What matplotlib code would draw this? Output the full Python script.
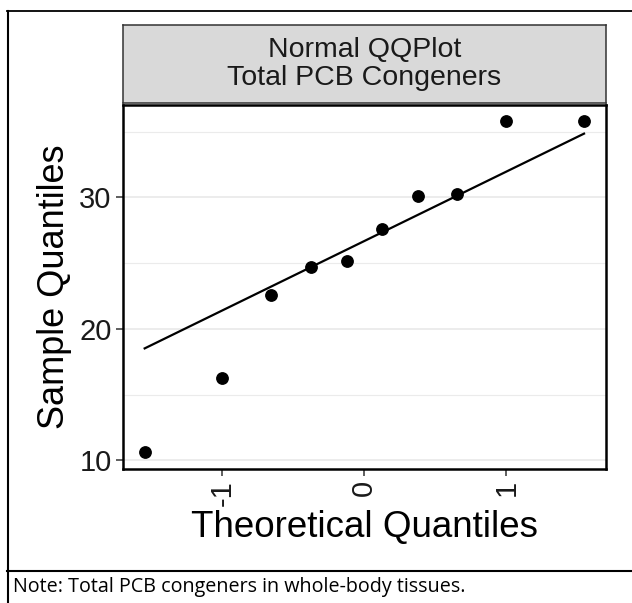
import numpy as np
import matplotlib
matplotlib.use("Agg")
import matplotlib.pyplot as plt
from matplotlib.lines import Line2D

# data
theoretical = [-1.547, -1.0, -0.655, -0.375, -0.123, 0.123, 0.375, 0.655, 1.0, 1.547]
sample = [10.6, 16.3, 22.6, 24.7, 25.2, 27.6, 30.1, 30.3, 35.8, 35.8]
x_ticks = [-1, 0, 1]
y_ticks = [10, 20, 30]
y_minor = [15, 25, 35]
strip_title = "Normal QQPlot\nTotal PCB Congeners"
x_label = "Theoretical Quantiles"
y_label = "Sample Quantiles"
note = "Note: Total PCB congeners in whole-body tissues."

plt.rcParams['font.family'] = ['Liberation Sans', 'DejaVu Sans']

W, H = 632, 603
fig = plt.figure(figsize=(W / 100, H / 100), dpi=100)


def fx(px):
    return px / W


def fy(py):
    return 1 - py / H


# panel
ax = fig.add_axes([fx(122.7), fy(469), (606 - 122.7) / W, (469 - 104.7) / H])

# qq line through the quartiles (like R's qqline)
q1, q3 = np.percentile(sample, [25, 75])
z = 0.6745
slope = (q3 - q1) / (2 * z)
icept = q1 + z * slope
xl = np.array([min(theoretical), max(theoretical)])

for v in y_ticks:
    ax.axhline(v, color='#EBEBEB', lw=1.3, zorder=0)
for v in y_minor:
    ax.axhline(v, color='#EBEBEB', lw=0.8, zorder=0)

ax.plot(xl, icept + slope * xl, color='black', lw=1.6, zorder=2)
ax.plot(theoretical, sample, 'o', color='black', ms=8.2, zorder=3)

# ggplot-like 5% expansion
xr = max(theoretical) - min(theoretical)
yr = max(sample) - min(sample)
ax.set_xlim(min(theoretical) - 0.05 * xr, max(theoretical) + 0.05 * xr)
ax.set_ylim(min(sample) - 0.05 * yr, max(sample) + 0.05 * yr)

ax.set_xticks(x_ticks)
ax.set_xticklabels([str(t) for t in x_ticks], rotation=90, va='top', ha='center')
ax.set_yticks(y_ticks)
ax.tick_params(length=5, width=1.1, color='#333333', labelsize=21,
               labelcolor='#1A1A1A', pad=3)
for s in ax.spines.values():
    s.set_color('black')
    s.set_linewidth(1.8)

ax.set_xlabel(x_label, fontsize=26.5, labelpad=3)
ax.set_ylabel(y_label, fontsize=26, labelpad=5)

# facet strip
sax = fig.add_axes([fx(122.7), fy(103), (606 - 122.7) / W, (103 - 25) / H])
sax.set_facecolor('#D9D9D9')
sax.set_xticks([])
sax.set_yticks([])
for s in sax.spines.values():
    s.set_color('#333333')
    s.set_linewidth(1.1)
sax.text(0.5, 0.5, strip_title, ha='center', va='center', fontsize=20.5,
         color='#1A1A1A', linespacing=1.1, transform=sax.transAxes)

# outer frame and note separator
fig.add_artist(Line2D([fx(7.5), fx(7.5)], [fy(11), 0], color='black', lw=1.5))
fig.add_artist(Line2D([fx(7), 1], [fy(11), fy(11)], color='black', lw=1.3))
fig.add_artist(Line2D([fx(7), 1], [fy(571), fy(571)], color='black', lw=1.5))

fig.text(fx(13), fy(587), note, family=['Open Sans', 'DejaVu Sans'],
         fontsize=14.2, va='center', ha='left', color='black')

fig.savefig('out.png', dpi=100)
